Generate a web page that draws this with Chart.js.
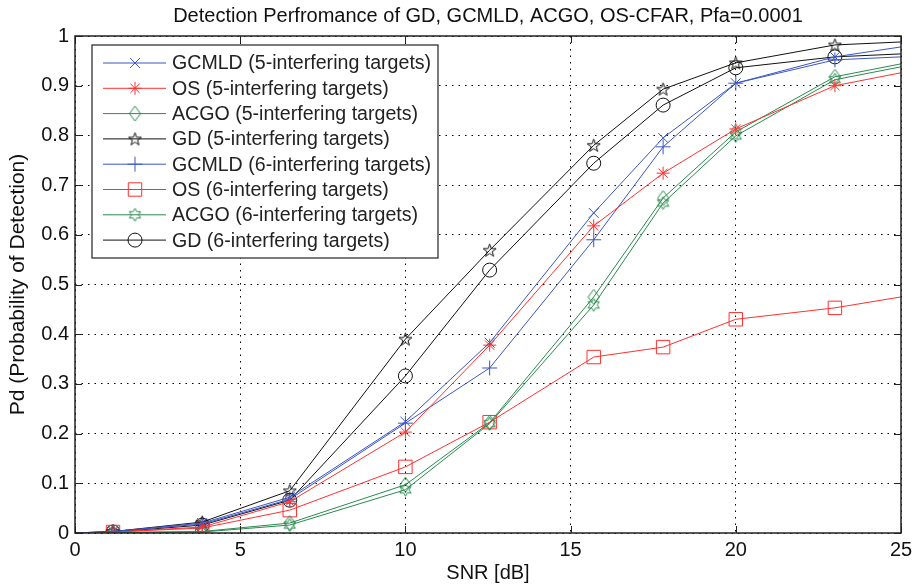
<!DOCTYPE html>
<html>
<head>
<meta charset="utf-8">
<script src="https://cdn.jsdelivr.net/npm/chart.js@4.4.1/dist/chart.umd.min.js"></script>
<style>
  body { margin: 0; background: #fff; }
  canvas { display: block; }
</style>
</head>
<body>
<canvas id="pd" width="912" height="585"></canvas>
<script>
// SNR points (dB) and Pd curves
const snr = [0, 1.15, 3.85, 6.5, 10, 12.55, 15.7, 17.8, 20, 23, 25];

const gcmld5 = [0, 0.003, 0.020, 0.072, 0.224, 0.383, 0.644, 0.795, 0.905, 0.958, 0.978];
const os5    = [0, 0.002, 0.012, 0.063, 0.203, 0.378, 0.618, 0.724, 0.813, 0.900, 0.926];
const acgo5  = [0, 0.001, 0.003, 0.020, 0.097, 0.222, 0.475, 0.674, 0.807, 0.918, 0.944];
const gd5    = [0, 0.003, 0.022, 0.085, 0.390, 0.569, 0.780, 0.893, 0.946, 0.982, 0.988];
const gcmld6 = [0, 0.003, 0.018, 0.068, 0.221, 0.332, 0.590, 0.777, 0.905, 0.952, 0.958];
const os6    = [0, 0.002, 0.010, 0.046, 0.133, 0.223, 0.354, 0.374, 0.430, 0.453, 0.475];
const acgo6  = [0, 0.001, 0.002, 0.016, 0.087, 0.220, 0.459, 0.664, 0.799, 0.912, 0.938];
const gd6    = [0, 0.002, 0.016, 0.066, 0.316, 0.529, 0.744, 0.861, 0.936, 0.958, 0.964];

const seriesNames = [
  'GCMLD (5-interfering targets)',
  'OS (5-interfering targets)',
  'ACGO (5-interfering targets)',
  'GD (5-interfering targets)',
  'GCMLD (6-interfering targets)',
  'OS (6-interfering targets)',
  'ACGO (6-interfering targets)',
  'GD (6-interfering targets)'
];

const xTicks = [0, 5, 10, 15, 20, 25];
const yTicks = [0, 0.1, 0.2, 0.3, 0.4, 0.5, 0.6, 0.7, 0.8, 0.9, 1];

const BLUE = '#3b56c4';
const RED = '#ff3030';
const GREEN = '#2a8a4e';
const BLACK = '#111111';
const FONT = "'Liberation Sans', Arial, sans-serif";

// little canvases for the matlab markers chart.js does not have
function marker(w, h, color, pts) {
  const c = document.createElement('canvas');
  c.width = w; c.height = h;
  const g = c.getContext('2d');
  g.strokeStyle = color;
  g.lineWidth = 1;
  g.beginPath();
  pts.forEach((p, i) => i ? g.lineTo(p[0], p[1]) : g.moveTo(p[0], p[1]));
  g.closePath();
  g.stroke();
  return c;
}
function starPts(n, R, r, cx, cy) {
  const pts = [];
  for (let i = 0; i < 2 * n; i++) {
    const a = -Math.PI / 2 + i * Math.PI / n;
    const rad = i % 2 ? r : R;
    pts.push([cx + rad * Math.cos(a), cy + rad * Math.sin(a)]);
  }
  return pts;
}
const diamond = marker(13, 17, GREEN, [[6.5, 1], [12, 8.5], [6.5, 16], [1, 8.5]]);
const pentagram = marker(15, 15, BLACK, starPts(5, 6.8, 2.7, 7.5, 8));
const hexagram = marker(15, 15, GREEN, starPts(6, 6.5, 3.6, 7.5, 7.5));

const styles = [
  { data: gcmld5, color: BLUE,  pt: 'crossRot', r: 7 },
  { data: os5,    color: RED,   pt: 'star',     r: 6.5 },
  { data: acgo5,  color: GREEN, pt: diamond,    r: 7 },
  { data: gd5,    color: BLACK, pt: pentagram,  r: 7 },
  { data: gcmld6, color: BLUE,  pt: 'cross',    r: 7.5 },
  { data: os6,    color: RED,   pt: 'rect',     r: 9.5 },
  { data: acgo6,  color: GREEN, pt: hexagram,   r: 7 },
  { data: gd6,    color: BLACK, pt: 'circle',   r: 7 }
];

const datasets = styles.map((s, k) => ({
  label: seriesNames[k],
  data: snr.map((x, i) => ({ x: x, y: s.data[i] })),
  borderColor: s.color,
  borderWidth: 1,
  pointStyle: s.pt,
  pointRadius: ctx => (ctx.dataIndex === 0 || ctx.dataIndex === snr.length - 1) ? 0 : s.r,
  pointBorderColor: s.color,
  pointBackgroundColor: 'rgba(0,0,0,0)',
  pointBorderWidth: 1,
  tension: 0
}));

// box, inward ticks and the legend inside the plot
const framePlugin = {
  id: 'frame',
  afterDraw(chart) {
    const ctx = chart.ctx;
    const a = chart.chartArea;
    const xs = chart.scales.x, ys = chart.scales.y;
    ctx.save();
    ctx.strokeStyle = '#222';
    ctx.lineWidth = 1;
    ctx.beginPath();
    xTicks.forEach(v => {
      const px = Math.round(xs.getPixelForValue(v)) + 0.5;
      ctx.moveTo(px, a.bottom); ctx.lineTo(px, a.bottom - 7);
      ctx.moveTo(px, a.top); ctx.lineTo(px, a.top + 7);
    });
    yTicks.forEach(v => {
      const py = Math.round(ys.getPixelForValue(v)) + 0.5;
      ctx.moveTo(a.left, py); ctx.lineTo(a.left + 7, py);
      ctx.moveTo(a.right, py); ctx.lineTo(a.right - 7, py);
    });
    ctx.stroke();
    ctx.lineWidth = 1.5;
    ctx.strokeRect(a.left, a.top, a.right - a.left, a.bottom - a.top);

    // legend
    const lx = a.left + 17, ly = a.top + 9, lw = 346, lh = 213;
    ctx.fillStyle = '#fff';
    ctx.fillRect(lx, ly, lw, lh);
    ctx.lineWidth = 1.2;
    ctx.strokeStyle = '#222';
    ctx.strokeRect(lx, ly, lw, lh);
    ctx.font = '19.6px ' + FONT;
    ctx.textBaseline = 'middle';
    styles.forEach((s, k) => {
      const y = ly + 18 + k * 25.3;
      ctx.strokeStyle = s.color;
      ctx.lineWidth = 1;
      ctx.beginPath();
      ctx.moveTo(lx + 11, y); ctx.lineTo(lx + 74, y);
      ctx.stroke();
      ctx.fillStyle = 'rgba(0,0,0,0)';
      Chart.helpers.drawPoint(ctx, { pointStyle: s.pt, radius: s.r, rotation: 0, borderWidth: 1 }, lx + 43, y);
      ctx.fillStyle = '#222';
      ctx.fillText(seriesNames[k], lx + 80, y + 1);
    });
    ctx.restore();
  }
};

new Chart(document.getElementById('pd'), {
  type: 'line',
  data: { datasets: datasets },
  options: {
    responsive: false,
    animation: false,
    layout: { padding: 0 },
    plugins: {
      legend: { display: false },
      tooltip: { enabled: false },
      title: {
        display: true,
        fullSize: false,
        text: 'Detection Perfromance of GD, GCMLD, ACGO, OS-CFAR, Pfa=0.0001',
        color: '#111',
        font: { family: FONT, size: 20, weight: 'normal' },
        padding: { top: 4, bottom: 8 }
      }
    },
    scales: {
      x: {
        type: 'linear',
        min: 0, max: 25,
        afterBuildTicks: sc => { sc.ticks = xTicks.map(v => ({ value: v })); },
        afterFit: sc => { sc.height = 52; sc.paddingRight = 11; sc.paddingLeft = 0; },
        grid: { color: '#000', lineWidth: 1, drawTicks: false },
        border: { display: false, dash: [1.5, 5] },
        ticks: { color: '#111', padding: 5, font: { family: FONT, size: 20 } },
        title: {
          display: true, text: 'SNR [dB]', color: '#111',
          font: { family: FONT, size: 20 }, padding: { top: 0, bottom: 0 }
        }
      },
      y: {
        min: 0, max: 1,
        afterBuildTicks: sc => { sc.ticks = yTicks.map(v => ({ value: v })); },
        afterFit: sc => { sc.width = 75; sc.paddingTop = 0; sc.paddingBottom = 0; },
        grid: { color: '#000', lineWidth: 1, drawTicks: false },
        border: { display: false, dash: [1.5, 5] },
        ticks: {
          color: '#111', padding: 6, font: { family: FONT, size: 20 },
          callback: v => String(Math.round(v * 10) / 10)
        },
        title: {
          display: true, text: 'Pd (Probability of Detection)', color: '#111',
          font: { family: FONT, size: 21 }, padding: { top: 5.4, bottom: 0 }
        }
      }
    }
  },
  plugins: [framePlugin]
});
</script>
</body>
</html>
